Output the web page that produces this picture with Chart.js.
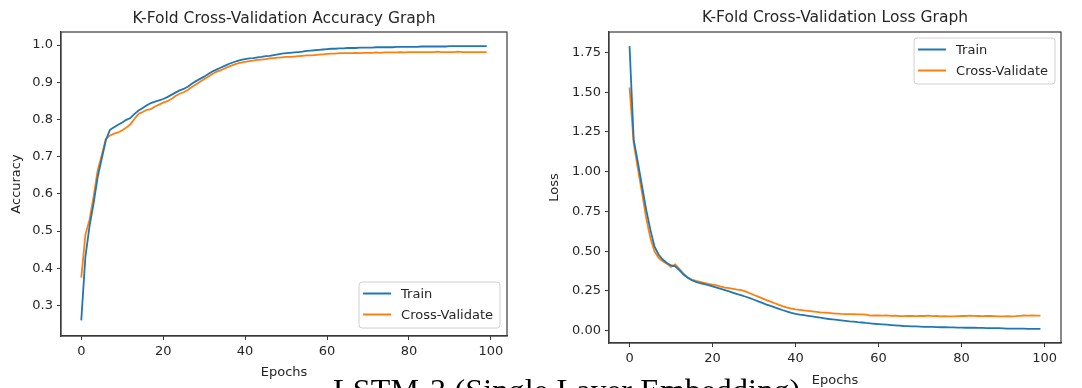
<!DOCTYPE html>
<html><head><meta charset="utf-8">
<script src="https://cdn.jsdelivr.net/npm/chart.js@4.4.1/dist/chart.umd.min.js"></script>
<style>
html,body{margin:0;padding:0;background:#fff;width:1082px;height:388px;overflow:hidden;position:relative;}
#c1{position:absolute;left:0;top:0;}
#c2{position:absolute;left:540px;top:0;}
#cap{position:absolute;left:333px;top:374px;font-family:"Liberation Serif","DejaVu Serif",serif;font-size:32px;line-height:32px;letter-spacing:0.2px;white-space:nowrap;color:#000;}
</style></head><body>
<canvas id="c1" width="540" height="388"></canvas>
<canvas id="c2" width="542" height="388"></canvas>
<div id="cap">LSTM-3 (Single Layer Embedding)</div>
<script>
const epochs = Array.from({length: 100}, (_, i) => i);
const epochTicks = [0, 20, 40, 60, 80, 100];
const accTicks = [0.3, 0.4, 0.5, 0.6, 0.7, 0.8, 0.9, 1.0];
const lossTicks = [0.00, 0.25, 0.50, 0.75, 1.00, 1.25, 1.50, 1.75];
const seriesNames = ["Train", "Cross-Validate"];

const trainAcc = [
0.260,0.430,0.512,0.574,0.645,0.695,0.744,0.772,0.779,0.786,
0.792,0.799,0.804,0.815,0.824,0.831,0.838,0.844,0.848,0.851,
0.855,0.860,0.866,0.872,0.878,0.882,0.888,0.896,0.903,0.909,
0.915,0.922,0.929,0.934,0.939,0.944,0.949,0.953,0.957,0.960,
0.962,0.964,0.965,0.967,0.968,0.970,0.971,0.973,0.975,0.977,
0.978,0.979,0.980,0.981,0.982,0.984,0.985,0.986,0.987,0.988,
0.989,0.990,0.990,0.991,0.991,0.992,0.992,0.992,0.993,0.993,
0.993,0.993,0.994,0.994,0.994,0.994,0.994,0.995,0.995,0.995,
0.995,0.995,0.995,0.996,0.996,0.996,0.996,0.996,0.996,0.996,
0.997,0.997,0.997,0.997,0.997,0.997,0.997,0.997,0.997,0.997];
const valAcc = [
0.375,0.490,0.530,0.592,0.663,0.704,0.748,0.757,0.762,0.765,
0.771,0.778,0.787,0.802,0.815,0.820,0.826,0.828,0.835,0.840,
0.845,0.849,0.855,0.863,0.869,0.873,0.879,0.887,0.894,0.901,
0.908,0.915,0.922,0.928,0.932,0.937,0.942,0.946,0.950,0.953,
0.955,0.957,0.958,0.960,0.961,0.962,0.964,0.965,0.966,0.967,
0.968,0.968,0.969,0.970,0.971,0.972,0.972,0.973,0.974,0.975,
0.976,0.977,0.977,0.978,0.978,0.978,0.978,0.979,0.978,0.979,
0.979,0.979,0.980,0.979,0.980,0.980,0.980,0.980,0.981,0.980,
0.981,0.981,0.981,0.981,0.981,0.981,0.981,0.982,0.981,0.981,
0.981,0.981,0.982,0.981,0.981,0.981,0.981,0.981,0.981,0.981];
const trainLoss = [
1.790,1.200,1.060,0.910,0.763,0.637,0.530,0.479,0.447,0.426,
0.410,0.405,0.380,0.353,0.332,0.317,0.307,0.298,0.292,0.286,
0.279,0.271,0.263,0.255,0.247,0.238,0.229,0.222,0.213,0.204,
0.194,0.184,0.174,0.164,0.155,0.146,0.137,0.128,0.120,0.112,
0.106,0.101,0.097,0.093,0.089,0.085,0.081,0.077,0.073,0.070,
0.067,0.064,0.061,0.058,0.056,0.053,0.051,0.048,0.046,0.043,
0.041,0.039,0.037,0.035,0.033,0.031,0.029,0.028,0.027,0.026,
0.025,0.024,0.023,0.023,0.022,0.021,0.021,0.020,0.020,0.019,
0.019,0.018,0.018,0.018,0.017,0.017,0.016,0.016,0.015,0.015,
0.014,0.013,0.013,0.012,0.012,0.012,0.011,0.011,0.011,0.011];
const valLoss = [
1.530,1.180,1.020,0.868,0.710,0.584,0.500,0.458,0.437,0.420,
0.401,0.416,0.389,0.359,0.336,0.321,0.313,0.307,0.300,0.294,
0.290,0.284,0.277,0.271,0.267,0.263,0.258,0.255,0.245,0.235,
0.224,0.214,0.203,0.192,0.182,0.172,0.162,0.153,0.145,0.139,
0.134,0.131,0.127,0.124,0.121,0.118,0.115,0.113,0.111,0.109,
0.107,0.105,0.104,0.104,0.103,0.102,0.102,0.101,0.094,0.095,
0.095,0.094,0.096,0.093,0.094,0.092,0.091,0.093,0.092,0.091,
0.093,0.092,0.094,0.091,0.092,0.089,0.091,0.090,0.089,0.091,
0.093,0.092,0.094,0.093,0.092,0.091,0.093,0.092,0.091,0.090,
0.089,0.091,0.090,0.091,0.093,0.095,0.094,0.095,0.094,0.094];

const BLUE = '#1f77b4', ORANGE = '#ff7f0e', TXT = '#262626', AX = '#3a3a3a';
Chart.defaults.font.family = '"DejaVu Sans", sans-serif';
Chart.defaults.font.size = 13;
Chart.defaults.color = TXT;

const framePlugin = {
  id: 'frameLegend',
  afterDatasetsDraw(chart, args, opts) {
    const {ctx, chartArea: a} = chart;
    ctx.save();
    ctx.strokeStyle = AX; ctx.lineWidth = 1.2;
    ctx.strokeRect(a.left, a.top, a.right - a.left, a.bottom - a.top);
    ctx.font = '13px "DejaVu Sans", sans-serif';
    const ds = chart.data.datasets;
    const tw = Math.max(...ds.map(d => ctx.measureText(d.label).width));
    const w = 4 + 28 + 10 + tw + 7, h = 46;
    const x = a.right - opts.dx - w;
    const y = opts.anchor === 'br' ? a.bottom - opts.dy - h : a.top + opts.dy;
    ctx.beginPath();
    ctx.roundRect(x, y, w, h, 3);
    ctx.fillStyle = 'rgba(255,255,255,0.85)'; ctx.fill();
    ctx.strokeStyle = '#d0d0d0'; ctx.lineWidth = 1; ctx.stroke();
    ds.forEach((d, i) => {
      const cy = y + 11.5 + i * 21;
      ctx.beginPath();
      ctx.moveTo(x + 4, cy); ctx.lineTo(x + 32, cy);
      ctx.strokeStyle = d.borderColor; ctx.lineWidth = 2; ctx.stroke();
      ctx.fillStyle = TXT; ctx.textBaseline = 'middle'; ctx.textAlign = 'left';
      ctx.fillText(d.label, x + 42, cy + 1);
    });
    ctx.restore();
  }
};

function makeChart(id, cfg) {
  const mk = (vals, color, label) => ({
    label, data: epochs.map((e, i) => ({x: e, y: vals[i]})),
    borderColor: color, backgroundColor: color, borderWidth: 1.8,
    pointRadius: 0, tension: 0, fill: false
  });
  return new Chart(document.getElementById(id), {
    type: 'line',
    data: { datasets: [mk(cfg.s1, BLUE, seriesNames[0]), mk(cfg.s2, ORANGE, seriesNames[1])] },
    plugins: [framePlugin],
    options: {
      responsive: false, animation: false, devicePixelRatio: 1,
      layout: { padding: { left: 0, right: cfg.padRight, top: 0, bottom: 0 } },
      plugins: {
        legend: { display: false },
        tooltip: { enabled: false },
        title: { display: true, text: cfg.title, fullSize: false, color: TXT,
                 font: { size: 15.5, weight: 'normal' },
                 padding: { top: cfg.titleTop, bottom: 32 - 18.6 - cfg.titleTop } },
        frameLegend: cfg.legend
      },
      scales: {
        x: {
          type: 'linear', min: -4.95, max: 103.95,
          afterFit: s => { s.height = cfg.xh; },
          afterBuildTicks: s => { s.ticks = epochTicks.map(v => ({value: v})); },
          ticks: { padding: 4, color: TXT, callback: v => String(v) },
          grid: { drawOnChartArea: false, drawTicks: true, tickLength: 4, tickColor: AX },
          border: { display: true, color: AX, width: 1.2 },
          title: { display: true, text: 'Epochs', color: TXT, font: { size: 13 }, padding: { top: 0, bottom: cfg.xTitlePad } }
        },
        y: {
          type: 'linear', min: cfg.ymin, max: cfg.ymax,
          afterFit: s => { s.width = cfg.yw; },
          afterBuildTicks: s => { s.ticks = cfg.yticks.map(v => ({value: v})); },
          ticks: { padding: 4, color: TXT, callback: v => v.toFixed(cfg.dec) },
          grid: { drawOnChartArea: false, drawTicks: true, tickLength: 4, tickColor: AX },
          border: { display: true, color: AX, width: 1.2 },
          title: { display: true, text: cfg.ylabel, color: TXT, font: { size: 13 }, padding: { top: cfg.yTitlePad, bottom: 0 } }
        }
      }
    }
  });
}

makeChart('c1', {
  s1: trainAcc, s2: valAcc, title: 'K-Fold Cross-Validation Accuracy Graph', ylabel: 'Accuracy',
  ymin: 0.218, ymax: 1.035, yticks: accTicks, dec: 1, yw: 61, padRight: 33, xh: 52,
  titleTop: 9.7, xTitlePad: 8, yTitlePad: 9, legend: { anchor: 'br', dx: 7, dy: 8 }
});
makeChart('c2', {
  s1: trainLoss, s2: valLoss, title: 'K-Fold Cross-Validation Loss Graph', ylabel: 'Loss',
  ymin: -0.078, ymax: 1.879, yticks: lossTicks, dec: 2, yw: 69, padRight: 21, xh: 45,
  titleTop: 8.7, xTitlePad: 0, yTitlePad: 7, legend: { anchor: 'tr', dx: 6, dy: 6 }
});
</script>
</body></html>
